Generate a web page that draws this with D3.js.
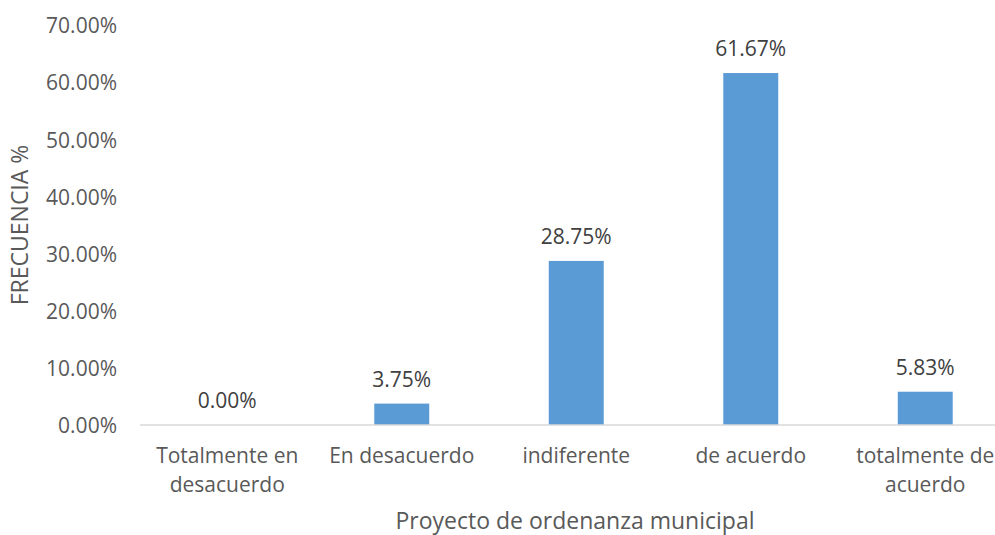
<!DOCTYPE html>
<html>
<head>
  <meta charset="utf-8">
  <title>Proyecto de ordenanza municipal</title>
  <style>
    body {
      margin: 0;
      background-color: #fff;
      font-family: 'Open Sans', sans-serif;
    }
    .tick text {
      fill: #595959;
      font-size: 21px;
    }
    .label {
      fill: #404040;
      font-size: 21px;
    }
    .title {
      fill: #595959;
      font-size: 23px;
    }
  </style>
</head>
<body>
  <div id="chart"></div>
  <script src="https://d3js.org/d3.v7.min.js"></script>
  <script>
    var categories = [
      ["Totalmente en", "desacuerdo"],
      ["En desacuerdo"],
      ["indiferente"],
      ["de acuerdo"],
      ["totalmente de", "acuerdo"]
    ];
    var values = [0.00, 3.75, 28.75, 61.67, 5.83];
    var yTicks = [0, 10, 20, 30, 40, 50, 60, 70];

    var width = 995,
      height = 535;

    var margin = { top: 25, left: 140, bottom: 110 };
    var plotRight = 1012.5;

    var svg = d3.select("#chart").append("svg")
      .attr("width", width)
      .attr("height", height);

    var keys = categories.map(function(c) { return c.join(" "); });

    var x = d3.scaleBand()
      .domain(keys)
      .range([margin.left, plotRight])
      .paddingInner(0.685)
      .paddingOuter(0.3425);

    var y = d3.scaleLinear()
      .domain([0, 70])
      .range([425, 25.5]);

    // y axis labels only, no line
    var yAxis = svg.append("g")
      .attr("transform", "translate(" + 117 + ",0)")
      .call(d3.axisLeft(y).tickValues(yTicks).tickSize(0).tickPadding(0)
        .tickFormat(function(d) { return d.toFixed(2) + "%"; }));
    yAxis.select(".domain").remove();
    yAxis.selectAll("text").attr("dy", "0.35em").style("font-family", "'Open Sans', sans-serif");

    // bars
    svg.selectAll("rect.bar")
      .data(values)
      .enter().append("rect")
      .attr("class", "bar")
      .attr("x", function(d, i) { return x(keys[i]); })
      .attr("y", function(d) { return y(d); })
      .attr("width", x.bandwidth())
      .attr("height", function(d) { return y(0) - y(d); })
      .style("fill", "#5b9bd5");

    // baseline
    svg.append("line")
      .attr("x1", margin.left)
      .attr("x2", plotRight)
      .attr("y1", y(0))
      .attr("y2", y(0))
      .style("stroke", "#d9d9d9")
      .style("stroke-width", 1.5);

    // data labels
    svg.selectAll("text.label")
      .data(values)
      .enter().append("text")
      .attr("class", "label")
      .attr("x", function(d, i) { return x(keys[i]) + x.bandwidth() / 2; })
      .attr("y", function(d) { return y(d) - 17; })
      .attr("text-anchor", "middle")
      .text(function(d) { return d.toFixed(2) + "%"; });

    // category labels
    var cat = svg.selectAll("text.cat")
      .data(categories)
      .enter().append("text")
      .attr("class", "cat")
      .attr("text-anchor", "middle")
      .attr("transform", function(d, i) {
        return "translate(" + (x(keys[i]) + x.bandwidth() / 2) + ",463)";
      });
    cat.selectAll("tspan")
      .data(function(d) { return d; })
      .enter().append("tspan")
      .attr("x", 0)
      .attr("dy", function(d, i) { return i ? 29 : 0; })
      .style("fill", "#595959")
      .style("font-size", "21px")
      .text(function(d) { return d; });

    // axis titles
    svg.append("text")
      .attr("class", "title")
      .attr("x", 575)
      .attr("y", 529)
      .attr("text-anchor", "middle")
      .text("Proyecto de ordenanza municipal");

    svg.append("text")
      .attr("class", "title")
      .attr("transform", "translate(28,225) rotate(-90)")
      .attr("text-anchor", "middle")
      .text("FRECUENCIA %");
  </script>
</body>
</html>
